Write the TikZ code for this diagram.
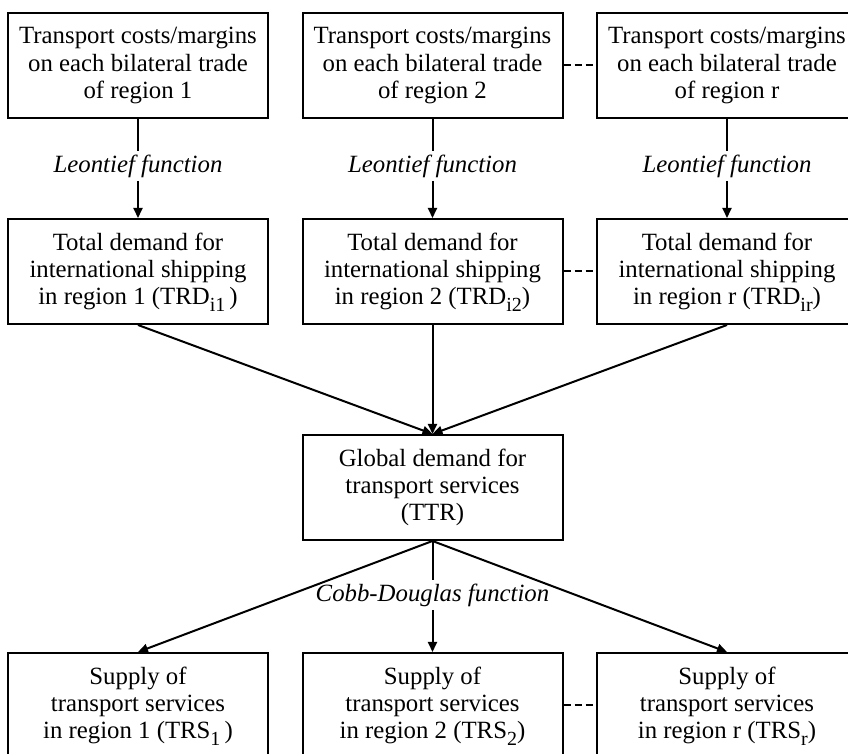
\documentclass[tikz,border=0pt]{standalone}
\usepackage{fontspec}
\setmainfont{Liberation Serif}
\usetikzlibrary{arrows.meta}
% lowered subscript that does not change the line depth
\newcommand{\subidx}[1]{\raisebox{-3.2pt}[0pt][0pt]{\fontsize{10}{10}\selectfont #1}}
\begin{document}
\begin{tikzpicture}[x=0.5pt,y=-0.5pt,
  box/.style={draw, line width=1pt, align=center, minimum width=130pt,
    minimum height=52.5pt, inner sep=0pt, font=\fontsize{12.4}{13.6}\selectfont},
  lbl/.style={font=\fontsize{12.4}{13.6}\selectfont\itshape, inner sep=1.5pt},
  ln/.style={line width=1pt},
  arr/.style={line width=1pt, -{Triangle[length=5pt,width=4.5pt]}},
  dots/.style={line width=1pt, dash pattern=on 3.5pt off 2pt}]
\clip (0,0) rectangle (848,754);

% first row: transport margins per region
\node[box] (t1) at (138,65.5) {Transport costs/margins\\on each bilateral trade\\of region 1};
\node[box] (t2) at (432.5,65.5) {Transport costs/margins\\on each bilateral trade\\of region 2};
\node[box] (t3) at (727,65.5) {Transport costs/margins\\on each bilateral trade\\of region r};

% Leontief labels
\node[lbl] (l1) at (138,166) {Leontief function};
\node[lbl] (l2) at (432.5,166) {Leontief function};
\node[lbl] (l3) at (727,166) {Leontief function};

% second row: regional shipping demand
\node[box] (d1) at (138,271.5) {Total demand for\\international shipping\\in region 1 (TRD\subidx{i1}\,)};
\node[box] (d2) at (432.5,271.5) {Total demand for\\international shipping\\in region 2 (TRD\subidx{i2})};
\node[box] (d3) at (727,271.5) {Total demand for\\international shipping\\in region r (TRD\subidx{ir})};

% global demand
\node[box] (g) at (432.5,487.5) {Global demand for\\transport services\\(TTR)};

% Cobb-Douglas label
\node[lbl] (cd) at (432.5,595) {Cobb-Douglas function};

% third row: regional supply
\node[box] (s1) at (138,705.5) {Supply of\\transport services\\in region 1 (TRS\subidx{1}\,)};
\node[box] (s2) at (432.5,705.5) {Supply of\\transport services\\in region 2 (TRS\subidx{2})};
\node[box] (s3) at (727,705.5) {Supply of\\transport services\\in region r (TRS\subidx{r})};

% margins to regional demand
\foreach \i in {1,2,3} {
  \draw[ln] (t\i.south) -- (l\i.north);
  \draw[arr] (l\i.south) -- (d\i.north);
}

% regional demand to global demand
\draw[arr] (d1.south) -- (g.north);
\draw[arr] (d2.south) -- (g.north);
\draw[arr] (d3.south) -- (g.north);

% global demand to regional supply
\draw[arr] (g.south) -- (s1.north);
\draw[arr] (g.south) -- (s3.north);
\draw[ln] (g.south) -- (cd.north);
\draw[arr] (cd.south) -- (s2.north);

% dashed links towards region r
\draw[dots] (t2.east) -- (t3.west);
\draw[dots] (d2.east) -- (d3.west);
\draw[dots] (s2.east) -- (s3.west);
\end{tikzpicture}
\end{document}
